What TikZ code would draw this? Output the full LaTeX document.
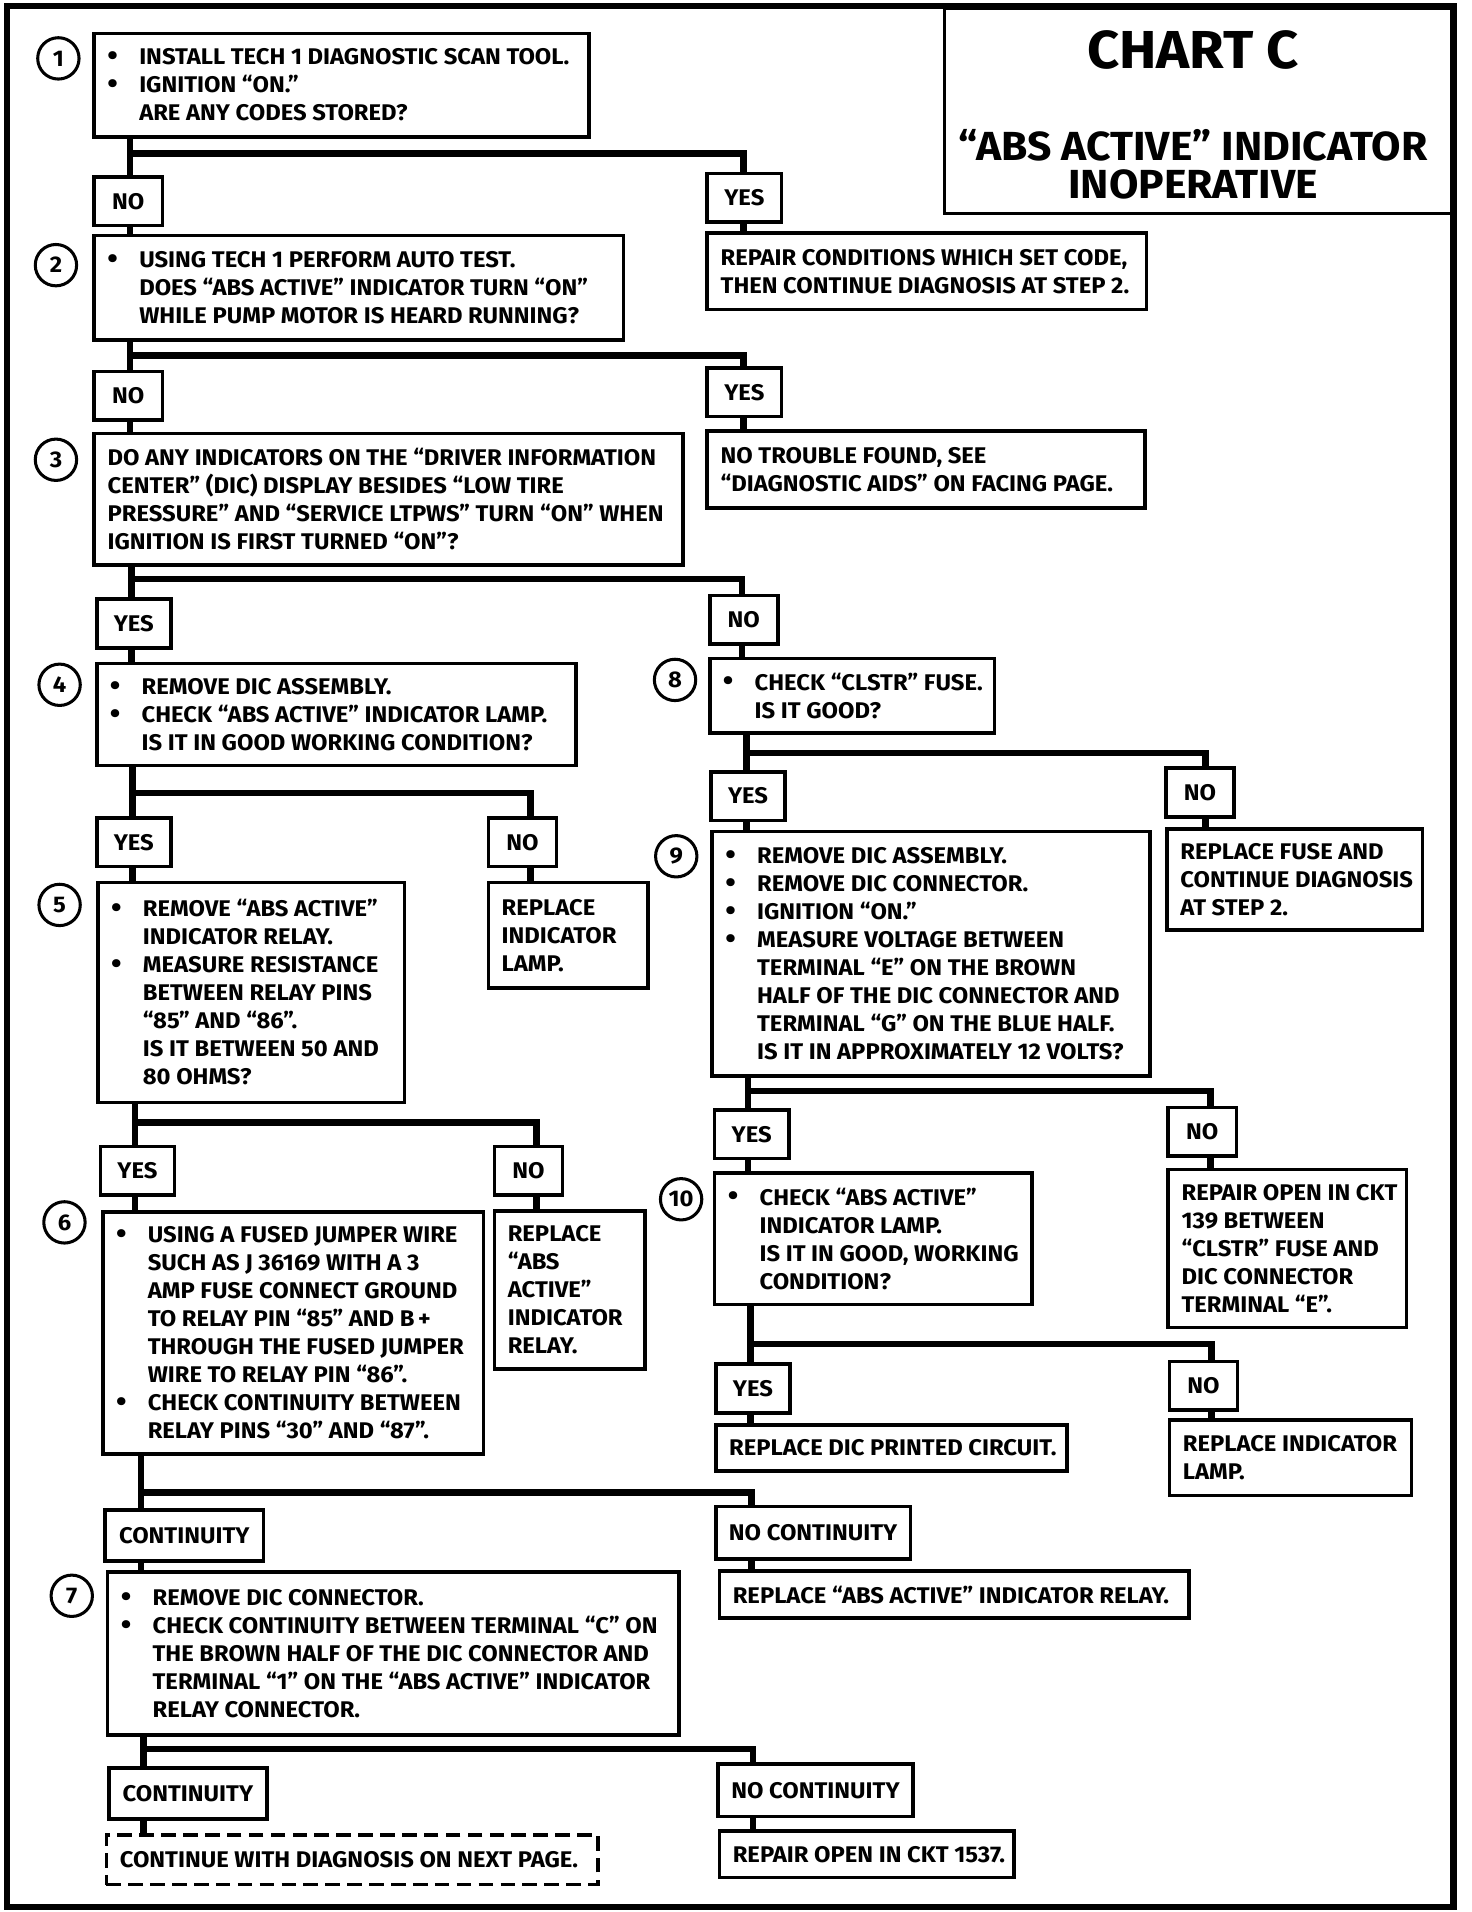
\documentclass[tikz,border=0pt]{standalone}
\usepackage{fontspec}
\setmainfont{Fira Sans}[FakeStretch=1.05]
\newcommand{\bul}{\leavevmode\llap{\raisebox{-0.3pt}{\fontsize{13.5}{13.5}\selectfont\textbullet}\hspace{3.5mm}}}

\begin{document}
\begin{tikzpicture}[x=0.2mm, y=-0.2mm, every node/.style={font=\bfseries\fontsize{10.6}{13.1}\selectfont}]

  \tikzstyle{box}=[draw, line width=0.6mm, anchor=north west, align=flush left, inner xsep=1mm, inner ysep=0pt, execute at begin node={\leftskip=1.2mm}]
  \tikzstyle{bulbox}=[box, execute at begin node={\leftskip=6.4mm}]
  \tikzstyle{lab}=[draw, line width=0.6mm, anchor=north west, minimum width=11.2mm, minimum height=8mm, inner sep=0pt]
  \tikzstyle{stepno}=[draw, circle, line width=0.5mm, minimum size=6.8mm, inner sep=0pt]
  \tikzstyle{wire}=[line width=1.1mm]

  \useasboundingbox (0,0) rectangle (1210,1572);
  \draw[line width=1mm] (6,5) rectangle (1195,1568);

  \node[draw, line width=0.6mm, anchor=north west, minimum width=84mm, minimum height=33.8mm, inner sep=0pt] (title) at (775,5) {};
  \node[anchor=base, font=\bfseries\fontsize{25}{30}\selectfont] (chart) at (981,56) {CHART C};
  \node[anchor=base, font=\bfseries\fontsize{19}{22}\selectfont] (subj) at (981,132) {“ABS ACTIVE” INDICATOR};
  \node[anchor=base, font=\bfseries\fontsize{19}{22}\selectfont] (inop) at (981,163) {INOPERATIVE};

  \node[stepno] (s1) at (48,48) {1};
  \node[stepno] (s2) at (46,218) {2};
  \node[stepno] (s3) at (46,378) {3};
  \node[stepno] (s4) at (49,563) {4};
  \node[stepno] (s5) at (49,744) {5};
  \node[stepno] (s6) at (53,1005) {6};
  \node[stepno] (s7) at (59,1312) {7};
  \node[stepno] (s8) at (555,559) {8};
  \node[stepno] (s9) at (556,704) {9};
  \node[stepno] (s10) at (560,986) {10};

  % left column
  \node[bulbox, text width=79.4mm, minimum height=17mm] (b1) at (76,26) {\bul INSTALL TECH 1 DIAGNOSTIC SCAN TOOL.\\ \bul IGNITION “ON.”\\ ARE ANY CODES STORED?};
  \node[bulbox, text width=85mm, minimum height=17.2mm] (b2) at (76,192) {\bul USING TECH 1 PERFORM AUTO TEST.\\ DOES “ABS ACTIVE” INDICATOR TURN “ON”\\ WHILE PUMP MOTOR IS HEARD RUNNING?};
  \node[box, text width=94.8mm, minimum height=21.6mm] (b3) at (76,355) {DO ANY INDICATORS ON THE “DRIVER INFORMATION\\ CENTER” (DIC) DISPLAY BESIDES “LOW TIRE\\ PRESSURE” AND “SERVICE LTPWS” TURN “ON” WHEN\\ IGNITION IS FIRST TURNED “ON”?};
  \node[bulbox, text width=76.8mm, minimum height=16.8mm] (b4) at (78,544) {\bul REMOVE DIC ASSEMBLY.\\ \bul CHECK “ABS ACTIVE” INDICATOR LAMP.\\ IS IT IN GOOD WORKING CONDITION?};
  \node[bulbox, text width=48.4mm, minimum height=36.2mm] (b5) at (79,724) {\bul REMOVE “ABS ACTIVE”\\ INDICATOR RELAY.\\ \bul MEASURE RESISTANCE\\ BETWEEN RELAY PINS\\ “85” AND “86”.\\ IS IT BETWEEN 50 AND\\ 80 OHMS?};
  \node[bulbox, text width=60.6mm, minimum height=39.8mm] (b6) at (83,995) {\bul USING A FUSED JUMPER WIRE\\ SUCH AS J 36169 WITH A 3\\ AMP FUSE CONNECT GROUND\\ TO RELAY PIN “85” AND B\,+\\ THROUGH THE FUSED JUMPER\\ WIRE TO RELAY PIN “86”.\\ \bul CHECK CONTINUITY BETWEEN\\ RELAY PINS “30” AND “87”.};
  \node[bulbox, text width=92mm, minimum height=26.8mm] (b7) at (87,1291) {\bul REMOVE DIC CONNECTOR.\\ \bul CHECK CONTINUITY BETWEEN TERMINAL “C” ON\\ THE BROWN HALF OF THE DIC CONNECTOR AND\\ TERMINAL “1” ON THE “ABS ACTIVE” INDICATOR\\ RELAY CONNECTOR.};
  \node[box, text width=78.8mm, minimum height=8.2mm, dash pattern=on 2.4mm off 1.2mm] (r7a) at (86,1507) {\mbox{CONTINUE WITH DIAGNOSIS ON NEXT PAGE.}};

  \node[box, text width=24.2mm, minimum height=17.4mm] (r4) at (400,724) {REPLACE\\ INDICATOR\\ LAMP.};
  \node[box, text width=22.8mm, minimum height=26mm] (r5) at (405,994) {REPLACE\\ “ABS\\ ACTIVE”\\ INDICATOR\\ RELAY.};

  % right column
  \node[box, text width=70.2mm, minimum height=12.6mm] (r1) at (580,190) {REPAIR CONDITIONS WHICH SET CODE,\\ THEN CONTINUE DIAGNOSIS AT STEP 2.};
  \node[box, text width=70mm, minimum height=12.6mm] (r2) at (580,353) {NO TROUBLE FOUND, SEE\\ “DIAGNOSTIC AIDS” ON FACING PAGE.};
  \node[bulbox, text width=44.8mm, minimum height=12.2mm] (b8) at (582,540) {\bul CHECK “CLSTR” FUSE.\\ IS IT GOOD?};
  \node[bulbox, text width=70mm, minimum height=40.2mm] (b9) at (584,682) {\bul REMOVE DIC ASSEMBLY.\\ \bul REMOVE DIC CONNECTOR.\\ \bul IGNITION “ON.”\\ \bul MEASURE VOLTAGE BETWEEN\\ TERMINAL “E” ON THE BROWN\\ HALF OF THE DIC CONNECTOR AND\\ TERMINAL “G” ON THE BLUE HALF.\\ IS IT IN APPROXIMATELY 12 VOLTS?};
  \node[bulbox, text width=50.2mm, minimum height=21.6mm] (b10) at (586,963) {\bul CHECK “ABS ACTIVE”\\ INDICATOR LAMP.\\ IS IT IN GOOD, WORKING\\ CONDITION?};
  \node[box, text width=55.8mm, minimum height=7.6mm] (r10a) at (587,1170) {\mbox{REPLACE DIC PRINTED CIRCUIT.}};
  \node[box, text width=75.2mm, minimum height=7.8mm] (r6) at (590,1290) {\mbox{REPLACE “ABS ACTIVE” INDICATOR RELAY.}};
  \node[box, text width=46.4mm, minimum height=7.6mm] (r7b) at (590,1504) {\mbox{REPAIR OPEN IN CKT 1537.}};

  \node[box, text width=40mm, minimum height=16.6mm] (r8) at (958,680) {REPLACE FUSE AND\\ CONTINUE DIAGNOSIS\\ AT STEP 2.};
  \node[box, text width=37.2mm, minimum height=26mm] (r9) at (959,960) {REPAIR OPEN IN CKT\\ 139 BETWEEN\\ “CLSTR” FUSE AND\\ DIC CONNECTOR\\ TERMINAL “E”.};
  \node[box, text width=37.8mm, minimum height=12.4mm] (r10b) at (960,1166) {REPLACE INDICATOR\\ LAMP.};

  % answers
  \node[lab] (n1) at (76,144) {NO};
  \node[lab, minimum width=12.2mm] (y1) at (580,141) {YES};
  \node[lab] (n2) at (76,304) {NO};
  \node[lab, minimum width=12.2mm] (y2) at (580,301) {YES};
  \node[lab, minimum width=12.2mm] (y3) at (78,491) {YES};
  \node[lab] (n3) at (582,488) {NO};
  \node[lab, minimum width=12.2mm] (y4) at (78,671) {YES};
  \node[lab] (n4) at (400,671) {NO};
  \node[lab, minimum width=12.2mm] (y5) at (81,941) {YES};
  \node[lab] (n5) at (405,941) {NO};
  \node[lab, minimum width=26mm, minimum height=8.4mm] (c6) at (85,1240) {CONTINUITY};
  \node[lab, minimum width=32mm, minimum height=8.6mm] (nc6) at (587,1237) {NO CONTINUITY};
  \node[lab, minimum width=26mm, minimum height=8.4mm] (c7) at (88,1452) {CONTINUITY};
  \node[lab, minimum width=32mm, minimum height=8.6mm] (nc7) at (589,1449) {NO CONTINUITY};
  \node[lab, minimum width=12.2mm] (y8) at (583,633) {YES};
  \node[lab] (n8) at (957,630) {NO};
  \node[lab, minimum width=12.2mm] (y9) at (586,911) {YES};
  \node[lab] (n9) at (959,909) {NO};
  \node[lab, minimum width=12.2mm] (y10) at (587,1120) {YES};
  \node[lab] (n10) at (960,1118) {NO};

  % branches
  \coordinate (j1) at (107,126);  \coordinate (k1) at (611,126);
  \draw[wire] (b1.south -| j1) -- (n1.north -| j1);
  \draw[wire] (j1) -- (k1) -- (y1.north -| k1);
  \draw[wire] (n1.south -| j1) -- (b2.north -| j1);
  \draw[wire] (y1.south -| k1) -- (r1.north -| k1);

  \coordinate (j2) at (107,292);  \coordinate (k2) at (611,292);
  \draw[wire] (b2.south -| j2) -- (n2.north -| j2);
  \draw[wire] (j2) -- (k2) -- (y2.north -| k2);
  \draw[wire] (n2.south -| j2) -- (b3.north -| j2);
  \draw[wire] (y2.south -| k2) -- (r2.north -| k2);

  \coordinate (j3) at (108,476);  \coordinate (k3) at (610,476);
  \draw[wire] (b3.south -| j3) -- (y3.north -| j3);
  \draw[wire] (j3) -- (k3) -- (n3.north -| k3);
  \draw[wire] (y3.south -| j3) -- (b4.north -| j3);
  \draw[wire] (n3.south -| k3) -- (b8.north -| k3);

  \coordinate (j4) at (109,652);  \coordinate (k4) at (436,652);
  \draw[wire] (b4.south -| j4) -- (y4.north -| j4);
  \draw[wire] (j4) -- (k4) -- (n4.north -| k4);
  \draw[wire] (y4.south -| j4) -- (b5.north -| j4);
  \draw[wire] (n4.south -| k4) -- (r4.north -| k4);

  \coordinate (j5) at (111,923);  \coordinate (k5) at (441,923);
  \draw[wire] (b5.south -| j5) -- (y5.north -| j5);
  \draw[wire] (j5) -- (k5) -- (n5.north -| k5);
  \draw[wire] (y5.south -| j5) -- (b6.north -| j5);
  \draw[wire] (n5.south -| k5) -- (r5.north -| k5);

  \coordinate (j6) at (116,1227);  \coordinate (k6) at (618,1227);
  \draw[wire] (b6.south -| j6) -- (c6.north -| j6);
  \draw[wire] (j6) -- (k6) -- (nc6.north -| k6);
  \draw[wire] (c6.south -| j6) -- (b7.north -| j6);
  \draw[wire] (nc6.south -| k6) -- (r6.north -| k6);

  \coordinate (j7) at (118,1438);  \coordinate (k7) at (619,1438);
  \draw[wire] (b7.south -| j7) -- (c7.north -| j7);
  \draw[wire] (j7) -- (k7) -- (nc7.north -| k7);
  \draw[wire] (c7.south -| j7) -- (r7a.north -| j7);
  \draw[wire] (nc7.south -| k7) -- (r7b.north -| k7);

  \coordinate (j8) at (614,619);  \coordinate (k8) at (991,619);
  \draw[wire] (b8.south -| j8) -- (y8.north -| j8);
  \draw[wire] (j8) -- (k8) -- (n8.north -| k8);
  \draw[wire] (y8.south -| j8) -- (b9.north -| j8);
  \draw[wire] (n8.south -| k8) -- (r8.north -| k8);

  \coordinate (j9) at (615,897);  \coordinate (k9) at (995,897);
  \draw[wire] (b9.south -| j9) -- (y9.north -| j9);
  \draw[wire] (j9) -- (k9) -- (n9.north -| k9);
  \draw[wire] (y9.south -| j9) -- (b10.north -| j9);
  \draw[wire] (n9.south -| k9) -- (r9.north -| k9);

  \coordinate (j10) at (617,1105);  \coordinate (k10) at (996,1105);
  \draw[wire] (b10.south -| j10) -- (y10.north -| j10);
  \draw[wire] (j10) -- (k10) -- (n10.north -| k10);
  \draw[wire] (y10.south -| j10) -- (r10a.north -| j10);
  \draw[wire] (n10.south -| k10) -- (r10b.north -| k10);

  %\draw[step=100,gray,very thin] (0,0) grid (1210,1572);

\end{tikzpicture}
\end{document}
